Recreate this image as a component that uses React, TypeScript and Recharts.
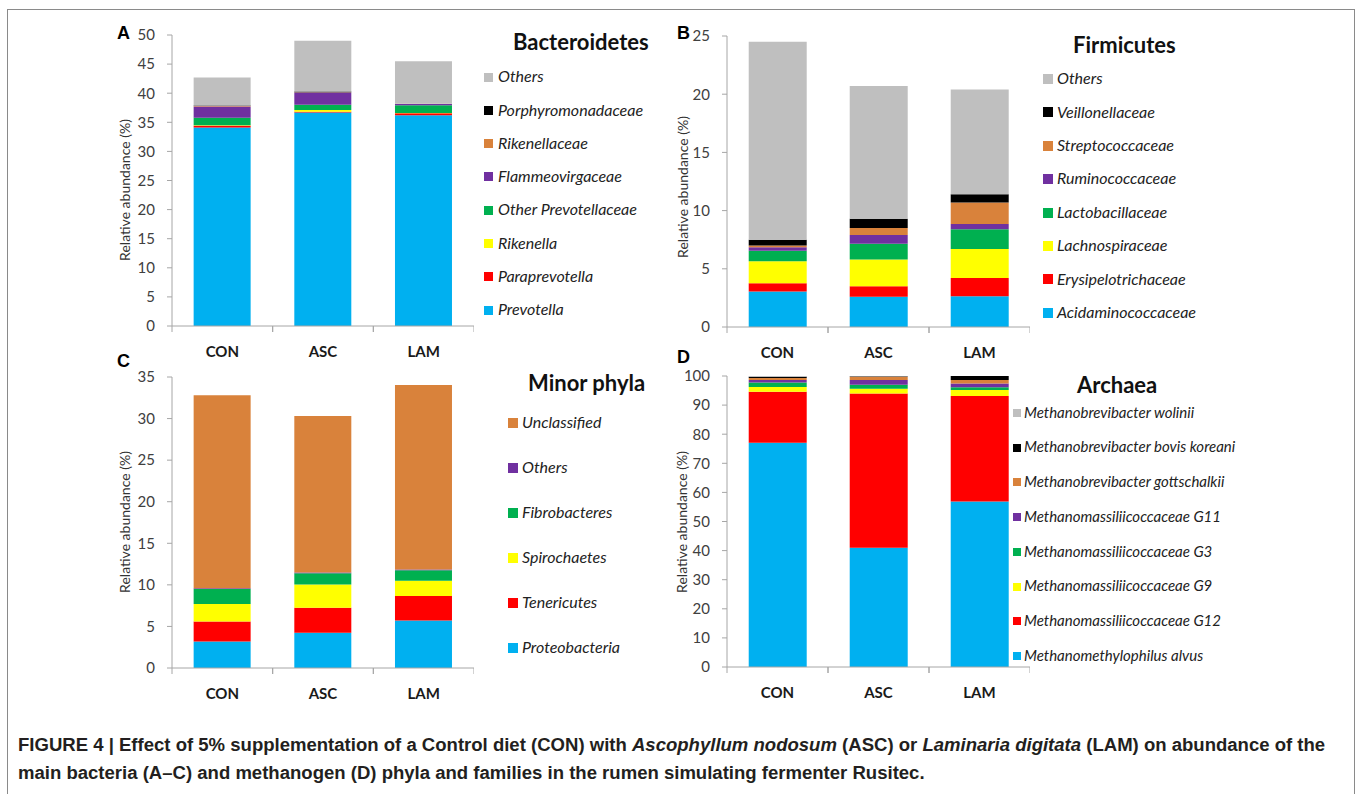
import { BarChart, Bar, XAxis, YAxis } from 'recharts';

const groups = ['CON', 'ASC', 'LAM'];

// stack colours, bottom to top
const stackColors = ['#00B0F0', '#FF0000', '#FFFF00', '#00B050', '#7030A0', '#D9823B', '#000000', '#BFBFBF'];

const bacteroidetesNames = ['Prevotella', 'Paraprevotella', 'Rikenella', 'Other Prevotellaceae', 'Flammeovirgaceae', 'Rikenellaceae', 'Porphyromonadaceae', 'Others'];
const bacteroidetesValues = [
  [34.1, 36.7, 36.2],
  [0.3, 0.1, 0.35],
  [0.1, 0.3, 0.05],
  [1.3, 0.9, 1.35],
  [1.9, 2.1, 0.2],
  [0.1, 0.05, 0.05],
  [0.1, 0.15, 0.0],
  [4.8, 8.7, 7.3],
];
const bacteroidetesTicks = [0, 5, 10, 15, 20, 25, 30, 35, 40, 45, 50];

const firmicutesNames = ['Acidaminococcaceae', 'Erysipelotrichaceae', 'Lachnospiraceae', 'Lactobacillaceae', 'Ruminococcaceae', 'Streptococcaceae', 'Veillonellaceae', 'Others'];
const firmicutesValues = [
  [3.05, 2.6, 2.65],
  [0.7, 0.9, 1.55],
  [1.9, 2.3, 2.5],
  [0.9, 1.35, 1.7],
  [0.3, 0.75, 0.45],
  [0.15, 0.6, 1.85],
  [0.5, 0.8, 0.7],
  [17.0, 11.4, 9.0],
];
const firmicutesTicks = [0, 5, 10, 15, 20, 25];

const minorNames = ['Proteobacteria', 'Tenericutes', 'Spirochaetes', 'Fibrobacteres', 'Others', 'Unclassified'];
const minorValues = [
  [3.2, 4.25, 5.7],
  [2.4, 3.0, 2.95],
  [2.1, 2.8, 1.85],
  [1.8, 1.35, 1.25],
  [0.1, 0.1, 0.1],
  [23.2, 18.8, 22.2],
];
const minorTicks = [0, 5, 10, 15, 20, 25, 30, 35];
const minorColors = ['#00B0F0', '#FF0000', '#FFFF00', '#00B050', '#7030A0', '#D9823B'];

const archaeaNames = ['Methanomethylophilus alvus', 'Methanomassiliicoccaceae G12', 'Methanomassiliicoccaceae G9', 'Methanomassiliicoccaceae G3', 'Methanomassiliicoccaceae G11', 'Methanobrevibacter gottschalkii', 'Methanobrevibacter bovis koreani', 'Methanobrevibacter wolinii'];
const archaeaValues = [
  [77.1, 41.0, 56.9],
  [17.5, 53.0, 36.2],
  [1.6, 1.6, 2.1],
  [1.6, 1.4, 0.9],
  [0.8, 1.6, 1.3],
  [0.7, 1.1, 1.2],
  [0.4, 0.2, 1.4],
  [0.3, 0.1, 0.0],
];
const archaeaTicks = [0, 10, 20, 30, 40, 50, 60, 70, 80, 90, 100];

const axisColor = '#A6A6A6';
const tickFont = 'Lato, "Open Sans", sans-serif';

const buildRows = (values: number[][]) =>
  groups.map((g, i) => {
    const row: Record<string, string | number> = { group: g };
    values.forEach((s, k) => {
      row['s' + k] = s[i];
    });
    return row;
  });

const CatTick = (props: any) => {
  const { x, y, payload, bw } = props;
  return (
    <g>
      <line x1={x - bw / 2} x2={x - bw / 2} y1={y} y2={y + 6} stroke={axisColor} />
      <line x1={x + bw / 2} x2={x + bw / 2} y1={y} y2={y + 6} stroke={axisColor} />
      <text x={x} y={y + 31} textAnchor="middle" fontFamily={tickFont} fontWeight={700} fontSize={15} fill="#1a1a1a">
        {payload.value}
      </text>
    </g>
  );
};

interface PanelProps {
  letter: string;
  letterX: number;
  letterY: number;
  title: string;
  titleX: number;
  titleY: number;
  names: string[];
  values: number[][];
  colors: string[];
  ticks: number[];
  left: number;
  top: number;
  plotW: number;
  labelX: number;
  labelY: number;
  legend: { sq: number; size: number; textX: number; y0: number; step: number; fs: number };
}

const Panel = (p: PanelProps) => {
  const data = buildRows(p.values);
  const yw = 72;
  const plotH = 291;
  const bw = p.plotW / groups.length;
  const max = p.ticks[p.ticks.length - 1];
  return (
    <>
      <div style={{ position: 'absolute', left: p.left, top: p.top }}>
        <BarChart width={yw + p.plotW} height={15 + plotH + 40} data={data} margin={{ top: 15, right: 0, left: 0, bottom: 0 }} barCategoryGap="21.5%">
          <XAxis
            dataKey="group"
            height={40}
            axisLine={{ stroke: axisColor }}
            tickLine={false}
            tickSize={0}
            tickMargin={0}
            interval={0}
            tick={(t: any) => <CatTick {...t} bw={bw} />}
          />
          <YAxis
            width={yw}
            domain={[0, max]}
            ticks={p.ticks}
            allowDataOverflow
            axisLine={{ stroke: axisColor }}
            tickLine={{ stroke: axisColor }}
            tickSize={5}
            tickMargin={12}
            tick={{ fontFamily: tickFont, fontSize: 15, fill: '#404040' }}
          />
          {p.values.map((_, k) => (
            <Bar key={k} dataKey={'s' + k} stackId="a" fill={p.colors[k]} isAnimationActive={false} />
          ))}
        </BarChart>
      </div>
      <div
        style={{
          position: 'absolute',
          left: p.labelX,
          top: p.labelY,
          transform: 'translate(-50%, -50%) rotate(-90deg)',
          whiteSpace: 'nowrap',
          fontFamily: tickFont,
          fontSize: 14,
          color: '#333',
          lineHeight: 1,
        }}
      >
        Relative abundance (%)
      </div>
      <div style={{ position: 'absolute', left: p.letterX, top: p.letterY, transform: 'translateY(-50%)', fontFamily: 'Arial, "Liberation Sans", sans-serif', fontWeight: 700, fontSize: 18, lineHeight: 1 }}>
        {p.letter}
      </div>
      <div style={{ position: 'absolute', left: p.titleX, top: p.titleY, transform: 'translateY(-50%)', fontFamily: tickFont, fontWeight: 700, fontSize: 22, lineHeight: 1, color: '#111', whiteSpace: 'nowrap' }}>
        {p.title}
      </div>
      {p.names
        .map((n, k) => ({ n, c: p.colors[k] }))
        .reverse()
        .map((it, i) => (
          <div key={it.n} style={{ position: 'absolute', top: p.legend.y0 + i * p.legend.step, left: 0, transform: 'translateY(-50%)', lineHeight: 1 }}>
            <div style={{ position: 'absolute', left: p.legend.sq, top: -p.legend.size / 2, width: p.legend.size, height: p.legend.size, background: it.c }} />
            <div style={{ position: 'absolute', left: p.legend.textX, top: -p.legend.fs * 0.55, fontFamily: tickFont, fontStyle: 'italic', fontSize: p.legend.fs, color: '#222', whiteSpace: 'nowrap' }}>
              {it.n}
            </div>
          </div>
        ))}
    </>
  );
};

export default function App() {
  return (
    <div style={{ position: 'absolute', left: 0, top: 0, width: 1360, height: 794, background: '#fff', overflow: 'hidden' }}>
      <div style={{ position: 'absolute', left: 7, top: 9, width: 1346, height: 800, border: '1.5px solid #8a8a8a' }} />
      <Panel
        letter="A" letterX={117} letterY={33}
        title="Bacteroidetes" titleX={513} titleY={42}
        names={bacteroidetesNames} values={bacteroidetesValues} colors={stackColors} ticks={bacteroidetesTicks}
        left={100} top={20} plotW={302} labelX={125} labelY={190}
        legend={{ sq: 484, size: 9, textX: 498, y0: 77, step: 33.3, fs: 16 }}
      />
      <Panel
        letter="B" letterX={677} letterY={33}
        title="Firmicutes" titleX={1073} titleY={45}
        names={firmicutesNames} values={firmicutesValues} colors={stackColors} ticks={firmicutesTicks}
        left={655} top={21} plotW={303} labelX={683} labelY={187}
        legend={{ sq: 1043, size: 10, textX: 1057, y0: 79, step: 33.4, fs: 16 }}
      />
      <Panel
        letter="C" letterX={117} letterY={361}
        title="Minor phyla" titleX={528} titleY={383}
        names={minorNames} values={minorValues} colors={minorColors} ticks={minorTicks}
        left={100} top={362} plotW={302} labelX={125} labelY={522}
        legend={{ sq: 508, size: 10, textX: 522, y0: 423, step: 45, fs: 16 }}
      />
      <Panel
        letter="D" letterX={677} letterY={357}
        title="Archaea" titleX={1077} titleY={385}
        names={archaeaNames} values={archaeaValues} colors={stackColors} ticks={archaeaTicks}
        left={655} top={361} plotW={303} labelX={682} labelY={522}
        legend={{ sq: 1013, size: 8, textX: 1024, y0: 413, step: 34.7, fs: 15 }}
      />
      <div style={{ position: 'absolute', left: 18, top: 731, fontFamily: 'Arial, "Liberation Sans", sans-serif', fontWeight: 700, fontSize: 18, lineHeight: '28px', color: '#231f20', whiteSpace: 'nowrap', transform: 'scaleX(1.03)', transformOrigin: 'left top' }}>
        FIGURE 4 | Effect of 5% supplementation of a Control diet (CON) with <i>Ascophyllum nodosum</i> (ASC) or <i>Laminaria digitata</i> (LAM) on abundance of the
        <br />
        main bacteria (A–C) and methanogen (D) phyla and families in the rumen simulating fermenter Rusitec.
      </div>
    </div>
  );
}
